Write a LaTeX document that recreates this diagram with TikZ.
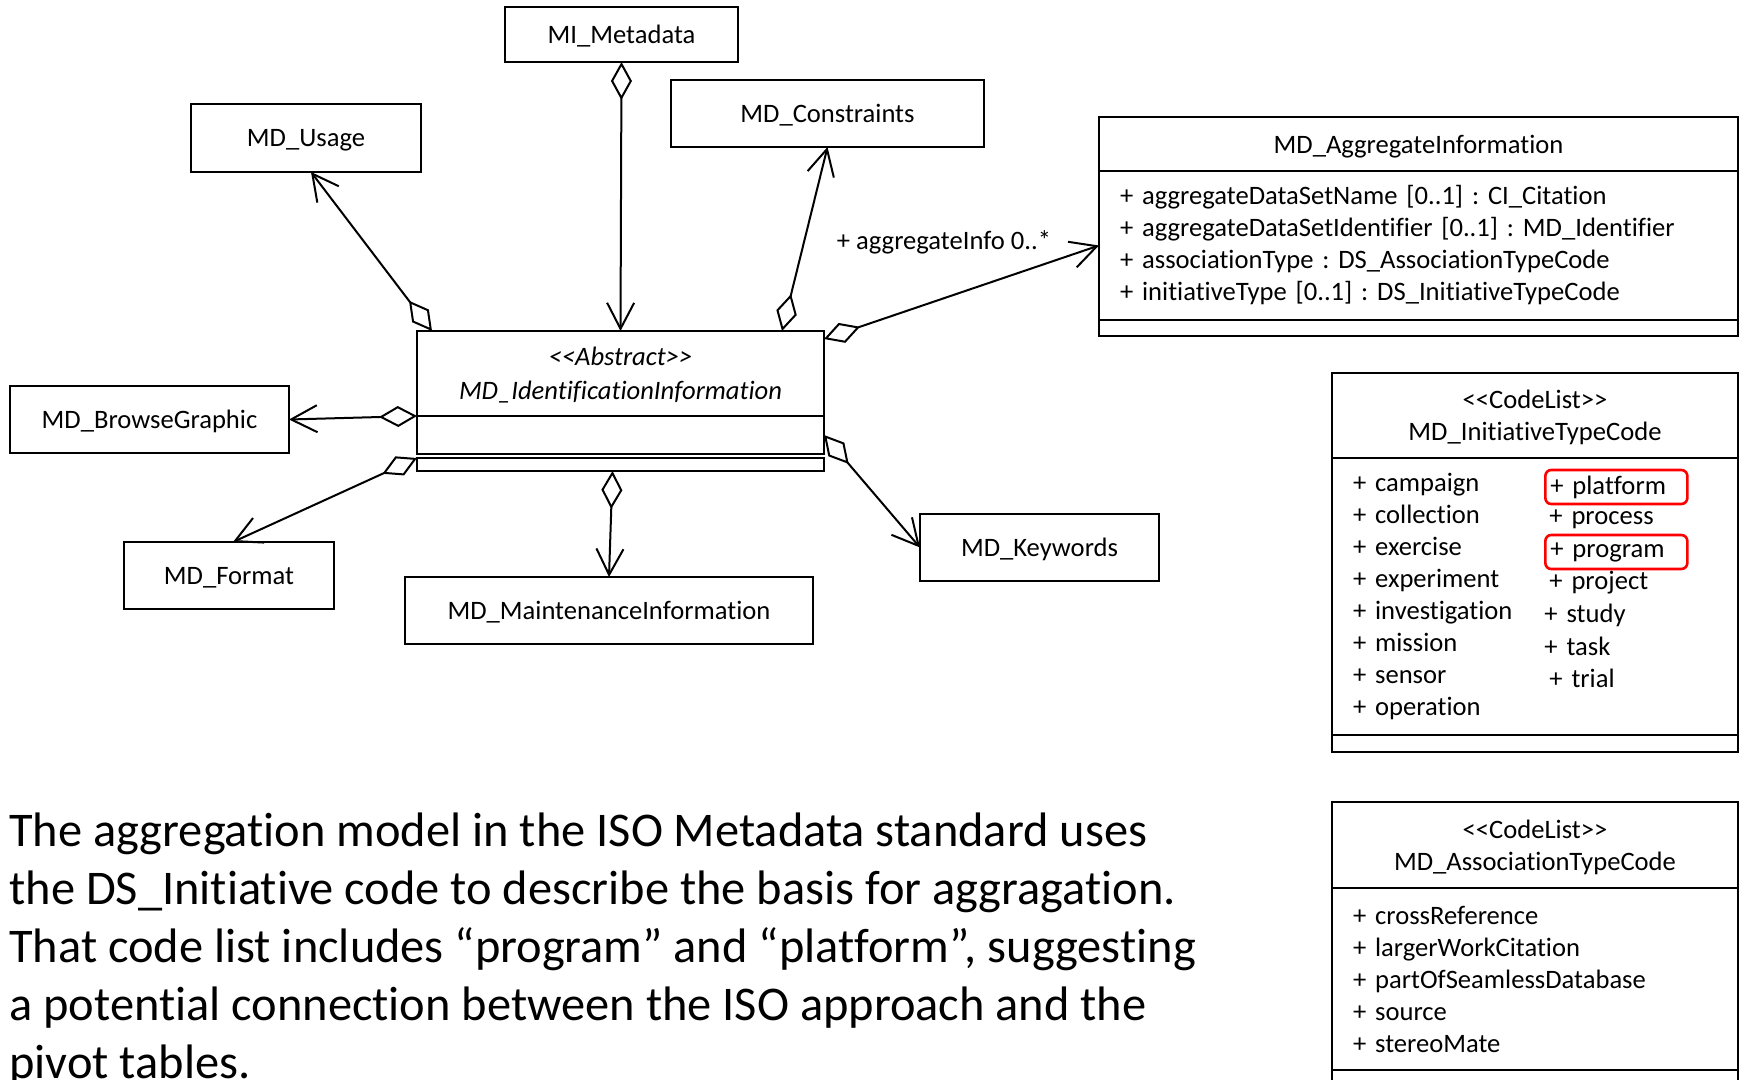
\documentclass[tikz,border=0pt]{standalone}
\usepackage{fontspec}
\setmainfont{Carlito}[Ligatures=NoCommon]
\frenchspacing
\usetikzlibrary{positioning,arrows.meta,calc}
\newcommand{\umlfont}{\fontsize{13.3}{16}\selectfont}
\tikzset{
  umlbox/.style={draw, line width=1pt, outer sep=0pt, inner sep=0pt, font=\umlfont, align=center, text depth=0pt},
  attrbox/.style={umlbox, text depth={}, align=left, inner xsep=10.5pt},
  has/.style={line width=1pt, {Diamond[open,length=19pt,width=10.5pt]}-{Straight Barb[length=13pt,width=13.5pt]}},
  codeitem/.style={font=\umlfont, anchor=west, inner xsep=2.5pt, inner ysep=0pt, minimum height=17pt, text width=66pt, align=left},
  marked/.style={draw=red, line width=1.3pt, rounded corners=3pt}, % red frame round a code
}

\begin{document}
\begin{tikzpicture}[x=0.5pt, y=-0.5pt]
  \useasboundingbox (0,0) rectangle (1743,1080);

  % the abstract class in the middle
  \node[umlbox, font=\fontsize{13.3}{17}\selectfont\itshape, minimum width=203.5pt, minimum height=42.5pt] (identname) at (620.5,373.5) {<{}<Abstract>{}>\\MD\_IdentificationInformation};
  \node[umlbox, minimum width=203.5pt, minimum height=19pt, below=0pt of identname] (identattr) {};
  \node[umlbox, minimum width=203.5pt, minimum height=6.5pt, below=2pt of identattr] (identops) {};

  \node[umlbox, minimum width=116.5pt, minimum height=27.5pt] (meta) at (621.5,34.5) {MI\_Metadata};
  \node[umlbox, minimum width=115pt, minimum height=34pt] (usage) at (306,138) {MD\_Usage};
  \node[umlbox, minimum width=156.5pt, minimum height=33.5pt] (constr) at (827.5,113.5) {MD\_Constraints};
  \node[umlbox, minimum width=139.5pt, minimum height=33.5pt] (browse) at (149.5,419.5) {MD\_BrowseGraphic};
  \node[umlbox, minimum width=105pt, minimum height=33.5pt] (format) at (229,575.5) {MD\_Format};
  \node[umlbox, minimum width=204pt, minimum height=33.5pt] (maint) at (609,610.5) {MD\_MaintenanceInformation};
  \node[umlbox, minimum width=119.5pt, minimum height=33.5pt] (keywords) at (1039.5,547.5) {MD\_Keywords};

  % MD_AggregateInformation
  \node[umlbox, minimum width=319.5pt, minimum height=27pt] (aggrname) at (1418.5,144) {MD\_AggregateInformation};
  \node[attrbox, text width=298.5pt, minimum height=74.5pt, below=0pt of aggrname] (aggrattr) {+ aggregateDataSetName [0..1] : CI\_Citation\\+ aggregateDataSetIdentifier [0..1] : MD\_Identifier\\+ associationType : DS\_AssociationTypeCode\\+ initiativeType [0..1] : DS\_InitiativeTypeCode};
  \node[umlbox, minimum width=319.5pt, minimum height=8pt, below=0pt of aggrattr] (aggrops) {};

  % code lists
  \node[umlbox, minimum width=203pt, minimum height=42.5pt] (initname) at (1535,415.5) {<{}<CodeList>{}>\\MD\_InitiativeTypeCode};
  \node[attrbox, text width=182pt, minimum height=138.5pt, below=0pt of initname] (initattr) {+ campaign\\+ collection\\+ exercise\\+ experiment\\+ investigation\\+ mission\\+ sensor\\+ operation};
  \node[umlbox, minimum width=203pt, minimum height=8.5pt, below=0pt of initattr] (initops) {};
  \node[codeitem, marked] (platform) at (1544,487) {+ platform};
  \node[codeitem] (process) at (1544,519) {+ process};
  \node[codeitem, marked] (program) at (1544,552) {+ program};
  \node[codeitem] (project) at (1544,583) {+ project};
  \node[codeitem] (study) at (1539,615) {+ study};
  \node[codeitem] (task) at (1539,646) {+ task};
  \node[codeitem] (trial) at (1544,678) {+ trial};

  \node[umlbox, minimum width=203pt, minimum height=43pt] (assocname) at (1535,845) {<{}<CodeList>{}>\\MD\_AssociationTypeCode};
  \node[attrbox, text width=182pt, minimum height=91pt, below=0pt of assocname] (assocattr) {+ crossReference\\+ largerWorkCitation\\+ partOfSeamlessDatabase\\+ source\\+ stereoMate};
  \node[umlbox, minimum width=203pt, minimum height=20pt, below=0pt of assocattr] (assocops) {};

  % aggregations
  \draw[has] (meta.south) -- (identname.north);
  \draw[has] ($(identname.north west)+(15,0)$) -- ($(usage.south)+(5,0)$);
  \draw[has] ($(identname.north east)+(-42,0)$) -- (constr.south);
  \draw[has] ($(identname.north east)+(0,8)$) -- (aggrattr.west);
  \draw[has] (identname.south west) -- (browse.east);
  \draw[has] (identops.north west) -- ($(format.north)+(4,0)$);
  \draw[has] ($(identops.south)+(-8,0)$) -- (maint.north);
  \draw[has] (identattr.east) -- (keywords.west);
  \node[font=\umlfont, text depth=0pt] (aggrlabel) at (944,240) {+ aggregateInfo 0..*};

  \node[anchor=north west, align=left, inner sep=0pt, font=\fontsize{24.2}{29}\selectfont] (note) at (9,812.5) {The aggregation model in the ISO Metadata standard uses\\the DS\_Initiative code to describe the basis for aggragation.\\That code list includes “program” and “platform”, suggesting\\a potential connection between the ISO approach and the\\pivot tables.};
\end{tikzpicture}
\end{document}
